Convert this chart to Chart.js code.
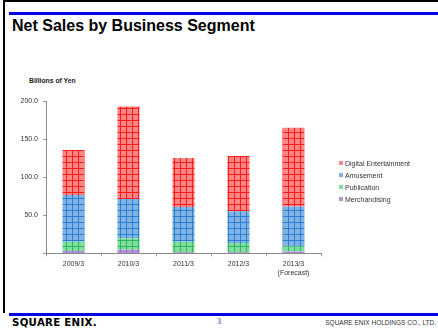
<!DOCTYPE html>
<html>
<head>
<meta charset="utf-8">
<script src="https://cdn.jsdelivr.net/npm/chart.js@4"></script>
<style>
  body { margin: 0; background: #fff; }
  #page { position: relative; width: 438px; height: 329px; overflow: hidden; background: #fff;
          font-family: Arial, "Liberation Sans", sans-serif; }
  .rule { position: absolute; }
  #title { position: absolute; left: 12px; top: 17px; font-size: 16px; font-weight: bold; color: #000; }
  #unit { position: absolute; left: 29px; top: 77px; font-size: 6.8px; font-weight: bold; color: #222; }
  #chartBox { position: absolute; left: 0; top: 60px; width: 438px; height: 230px; }
  #legend { position: absolute; left: 339px; top: 159px; font-size: 7px; color: #333; }
  #legend div { height: 12px; line-height: 10px; white-space: nowrap; }
  #legend span { display: inline-block; width: 4px; height: 4px; margin-right: 2px; vertical-align: 1px; }
  #logo { position: absolute; left: 12px; top: 316px; font-size: 11px; font-weight: 900; color: #000; letter-spacing: 0.3px;
          font-family: "DejaVu Sans", Arial, sans-serif; transform: scaleX(0.93); transform-origin: left; }
  #pageNo { position: absolute; left: 217px; top: 317px; font-size: 8px; color: #2a2ab0; font-family: "Liberation Serif", serif; }
  #company { position: absolute; right: 2px; top: 319px; font-size: 6.5px; color: #333; }
</style>
</head>
<body>
<div id="page">
  <div class="rule" style="left:3px;top:0;width:435px;height:2px;background:#000"></div>
  <div class="rule" style="left:3px;top:0;width:2px;height:313px;background:#000"></div>
  <div class="rule" style="left:9px;top:12px;width:429px;height:3px;background:#0000e6"></div>
  <div class="rule" style="left:9px;top:313px;width:429px;height:3px;background:#0000e6"></div>
  <div id="title">Net Sales by Business Segment</div>
  <div id="unit">Billions of Yen</div>
  <div id="chartBox"><canvas id="sales" width="438" height="230"></canvas></div>
  <div id="legend"></div>
  <div id="logo">SQUARE ENIX.</div>
  <div id="pageNo">3</div>
  <div id="company">SQUARE ENIX HOLDINGS CO., LTD.</div>
</div>
<script>
// fiscal years (billions of yen)
const years = ["2009/3", "2010/3", "2011/3", "2012/3", ["2013/3", "(Forecast)"]];
const merchandising = [3.0, 4.5, 1.5, 1.5, 2.5];
const publication = [12.3, 15.2, 13.8, 12.0, 6.7];
const amusement = [61.4, 51.7, 45.6, 41.8, 52.1];
const digitalEntertainment = [59.0, 121.4, 64.4, 72.6, 103.7];
const yTicks = [0, 50, 100, 150, 200];

// grid hatch used in the bars
const gridPattern = (fill, line) => {
    const tile = document.createElement("canvas");
    tile.width = 6;
    tile.height = 6;
    const c = tile.getContext("2d");
    c.fillStyle = fill;
    c.fillRect(0, 0, 6, 6);
    c.fillStyle = line;
    c.fillRect(0, 0, 1, 6);
    c.fillRect(0, 0, 6, 1);
    return c.createPattern(tile, "repeat");
};

const segments = [
    { label: "Merchandising", data: merchandising, fill: "#b491d9", line: "#9166cc" },
    { label: "Publication", data: publication, fill: "#82dea0", line: "#2cb85a" },
    { label: "Amusement", data: amusement, fill: "#80b3e3", line: "#2a7fd4" },
    { label: "Digital Entertainment", data: digitalEntertainment, fill: "#ff8686", line: "#ff1a1a" }
];

// legend, top segment first
const legend = document.getElementById("legend");
segments.slice().reverse().forEach((s) => {
    const row = document.createElement("div");
    const box = document.createElement("span");
    box.style.background = s.fill;
    row.appendChild(box);
    row.appendChild(document.createTextNode(s.label));
    legend.appendChild(row);
});

const context = document.getElementById("sales").getContext("2d");
const salesChart = new Chart(context, {
    type: "bar",
    data: {
        labels: years,
        datasets: segments.map((s) => ({
            label: s.label,
            data: s.data,
            backgroundColor: gridPattern(s.fill, s.line),
            borderWidth: 0,
            barPercentage: 0.4,
            categoryPercentage: 1.0
        }))
    },
    options: {
        responsive: false,
        animation: false,
        maintainAspectRatio: false,
        layout: { padding: { left: 0, right: 117, top: 41, bottom: 0 } },
        plugins: {
            legend: { display: false },
            tooltip: { enabled: false }
        },
        scales: {
            x: {
                stacked: true,
                afterFit: (scale) => { scale.height = 36.7; },
                border: { color: "#888", width: 1 },
                grid: { offset: true, drawOnChartArea: false, tickLength: 3, color: "#999" },
                ticks: {
                    color: "#333",
                    padding: 4,
                    maxRotation: 0,
                    autoSkip: false,
                    font: { family: "Arial, 'Liberation Sans'", size: 7 }
                }
            },
            y: {
                stacked: true,
                min: 0,
                max: 200,
                afterFit: (scale) => { scale.width = 46; },
                afterBuildTicks: (scale) => { scale.ticks = yTicks.map((v) => ({ value: v })); },
                border: { color: "#888", width: 1 },
                grid: { drawOnChartArea: false, tickLength: 3, color: "#999" },
                ticks: {
                    color: "#333",
                    padding: 5,
                    font: { family: "Arial, 'Liberation Sans'", size: 7 },
                    callback: (v) => (v === 0 ? "" : v.toFixed(1))
                }
            }
        }
    }
});
</script>
</body>
</html>
